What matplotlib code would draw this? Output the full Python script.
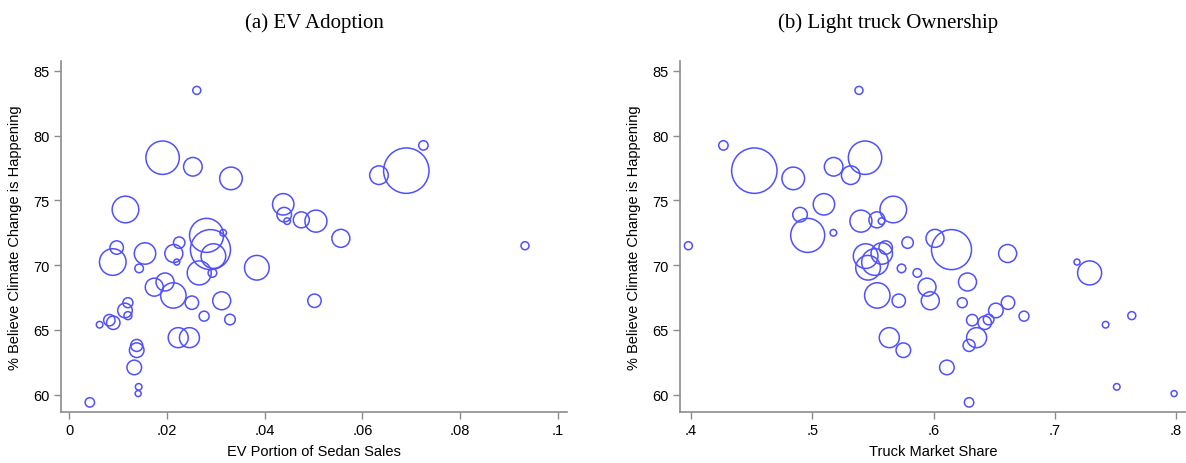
import matplotlib
matplotlib.use("Agg")
import matplotlib.pyplot as plt
import numpy as np

# one entry per state (same order in every list)
belief = [83.5, 78.3, 77.6, 76.7, 74.3, 74.7, 73.9, 73.4, 73.5, 73.4,
          72.5, 72.3, 71.2, 70.7, 71.36, 71.74, 70.9, 70.9, 70.24, 70.24,
          69.75, 69.4, 69.4, 69.8, 68.3, 68.7, 67.66, 67.1, 67.25, 67.25,
          67.1, 66.5, 66.1, 66.06, 65.8, 65.4, 65.75, 65.55, 64.4, 64.4,
          63.8, 63.43, 62.1, 60.6, 60.08, 59.4, 72.07, 71.5, 79.25, 77.3,
          76.95]
ev_share = [.0261, .0191, .0253, .0331, .0115, .0438, .0440, .0446, .0475, .0505,
            .0315, .0281, .0289, .0295, .0097, .0225, .0155, .0214, .0089, .0220,
            .0143, .0266, .0293, .0384, .0174, .0196, .0213, .0251, .0312, .0502,
            .0120, .0114, .0120, .0276, .0329, .0062, .0082, .0090, .0223, .0246,
            .0138, .0138, .0133, .0142, .0141, .0042, .0556, .0933, .0725, .0690,
            .0634]
truck_share = [.5385, .5435, .5176, .4843, .5668, .5096, .4899, .5571, .5533, .5401,
               .5174, .4962, .6148, .5440, .5605, .5786, .5573, .6611, .5517, .7183,
               .5736, .7287, .5866, .5460, .5946, .6280, .5536, .6614, .5973, .5713,
               .6237, .6514, .7635, .6746, .6454, .7419, .6319, .6422, .5635, .6355,
               .6293, .5751, .6110, .7511, .7984, .6293, .6012, .3978, .4267, .4522,
               .5317]
pop = [1.21, 21.1, 6.55, 9.67, 13.4, 8.67, 4.03, 0.82, 4.85, 9.16,
       0.82, 21.9, 30.3, 11.5, 3.4, 2.46, 8.67, 6.13, 13.4, 0.68,
       1.40, 10.9, 1.40, 11.5, 6.13, 6.13, 12.2, 3.4, 6.13, 3.4,
       1.89, 4.03, 1.21, 1.89, 2.13, 0.82, 2.46, 3.4, 7.57, 7.57,
       2.73, 4.03, 4.03, 0.82, 0.68, 1.67, 6.13, 1.21, 1.67, 39.0,
       6.55]

ev_ticks = [0, .02, .04, .06, .08, .1]
truck_ticks = [.4, .5, .6, .7, .8]
belief_ticks = [60, 65, 70, 75, 80, 85]


def stata_fmt(v):
    s = "{:g}".format(v)
    if s.startswith("0."):
        s = s[1:]
    return s


W, H = 1186, 464
fig = plt.figure(figsize=(W / 100, H / 100), dpi=100)
plt.rcParams['font.family'] = ['Liberation Sans', 'DejaVu Sans']

sizes = np.array(pop) * 27.4
col = '#5050FF'

panels = [
    (60.7 / W, ev_share, ev_ticks, (-0.00176, 0.10184), "EV Portion of Sedan Sales",
     "(a) EV Adoption", 314),
    (680 / W, truck_share, truck_ticks, (0.3909, 0.8082), "Truck Market Share",
     "(b) Light truck Ownership", 888),
]

for left, xs, xt, xl, xlab, title, tx in panels:
    ax = fig.add_axes([left, 1 - 412.7 / H, 506 / W, (412.7 - 62) / H])
    ax.scatter(xs, belief, s=sizes, facecolors='none', edgecolors=col, linewidths=1.1)
    ax.set_xlim(*xl)
    ax.set_ylim(58.68, 85.77)
    ax.set_xticks(xt)
    ax.set_xticklabels([stata_fmt(v) for v in xt])
    ax.set_yticks(belief_ticks)
    ax.set_yticklabels([str(v) for v in belief_ticks])
    for side in ['top', 'right']:
        ax.spines[side].set_visible(False)
    for side in ['left', 'bottom']:
        ax.spines[side].set_color('#8c8c8c')
        ax.spines[side].set_linewidth(1.2)
    ax.tick_params(direction='out', length=5, width=1, color='#8c8c8c',
                   labelsize=10.5, labelcolor='black', pad=3)
    ax.set_xlabel(xlab, fontsize=10.5, labelpad=5)
    ax.set_ylabel("% Believe Climate Change is Happening", fontsize=10.5, labelpad=8)
    fig.text(tx / W, 1 - 23 / H, title, ha='center', va='center',
             fontsize=15, family=['Liberation Serif', 'DejaVu Serif'])

fig.savefig("out.png", dpi=100)
